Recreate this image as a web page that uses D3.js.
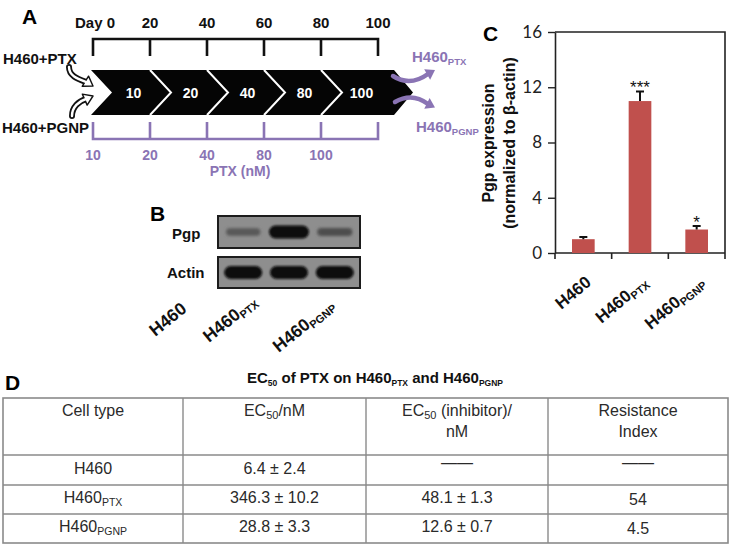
<!DOCTYPE html>
<html><head><meta charset="utf-8">
<script src="https://cdn.jsdelivr.net/npm/d3@7"></script>
<style>body{margin:0;background:#fff} svg{display:block}</style>
</head><body>
<svg id="c" width="732" height="545"></svg>
<script>
// ---------- data ----------
const days = [0, 20, 40, 60, 80, 100];
const dayLabels = ["Day 0", "20", "40", "60", "80", "100"];
const ptxDoses = [10, 20, 40, 80, 100];          // labels under purple bracket
const stepDoses = [10, 20, 40, 80, 100];         // numbers inside chevrons
const lineLabelsIn = ["H460+PTX", "H460+PGNP"];
const lineLabelsOut = ["H460_PTX", "H460_PGNP"];
const cells = ["H460", "H460_PTX", "H460_PGNP"];
const pgpBand = [0.3, 1.0, 0.4];                 // relative band intensity
const actinBand = [1.0, 1.0, 1.0];
const pgpExpr = [1.0, 11.0, 1.7];
const pgpErr = [0.15, 0.7, 0.25];
const sigMarks = ["", "***", "*"];
const yTicks = [0, 4, 8, 12, 16];
const tableHeaders = [["Cell type"], ["EC_50/nM"], ["EC_50 (inhibitor)/", "nM"], ["Resistance", "Index"]];
const ec50 = ["6.4 ± 2.4", "346.3 ± 10.2", "28.8 ± 3.3"];
const ec50Inhibitor = ["——", "48.1 ± 1.3", "12.6 ± 0.7"];
const resistanceIndex = ["——", "54", "4.5"];
const tableTitle = "EC_50 of PTX on H460_PTX and H460_PGNP";

// ---------- helpers ----------
const svg = d3.select("#c");
const FONT = "'Liberation Sans', Arial, sans-serif";
const PURPLE = "#8a74b4";
function rich(sel, str, subSize, subDy) {
  const parts = str.split(/(_[A-Za-z0-9]+)/).filter(s => s.length);
  let shifted = false;
  parts.forEach(p => {
    if (p[0] === "_") {
      sel.append("tspan").attr("font-size", subSize).attr("dy", shifted ? 0 : subDy).text(p.slice(1));
      shifted = true;
    } else {
      sel.append("tspan").attr("dy", shifted ? -subDy : 0).text(p);
      shifted = false;
    }
  });
  return sel;
}
function head(g, tip, from, len, half, fill, stroke) {
  const dx = tip[0] - from[0], dy = tip[1] - from[1], L = Math.hypot(dx, dy);
  const ux = dx / L, uy = dy / L, px = -uy, py = ux;
  const bx = tip[0] - ux * len, by = tip[1] - uy * len;
  g.append("path")
    .attr("d", `M${tip[0]},${tip[1]}L${bx + px * half},${by + py * half}L${bx - px * half},${by - py * half}Z`)
    .attr("fill", fill).attr("stroke", stroke || "none").attr("stroke-width", 1.4).attr("stroke-linejoin", "round");
}

// ---------- Panel A ----------
const A = svg.append("g").attr("font-family", FONT).attr("font-weight", "bold");
A.append("text").attr("x", 22).attr("y", 24).attr("font-size", 21).text("A");
const xd = d3.scalePoint().domain(days).range([93, 378]);

A.append("path")
  .attr("d", `M${xd(0)},56V39H${xd(100)}V56` + days.slice(1, -1).map(d => `M${xd(d)},39V56`).join(""))
  .attr("fill", "none").attr("stroke", "#111").attr("stroke-width", 2.6);
A.selectAll(".dl").data(days).join("text")
  .attr("x", (d, i) => xd(d) + (i === 0 ? 2 : 0)).attr("y", 28)
  .attr("text-anchor", "middle").attr("font-size", 15).attr("fill", "#111")
  .text((d, i) => dayLabels[i]);

const yTop = 70, yBot = 115, yMid = 92.5, notch = 21;
const x0 = xd(0) - 2, xe = xd(100) + 16;
A.append("path")
  .attr("d", `M${x0},${yTop}L${xe},${yTop}L${xe + 19},${yMid}L${xe},${yBot}L${x0},${yBot}L${x0 + notch},${yMid}Z`)
  .attr("fill", "#050505");
A.selectAll(".chev").data(days.slice(1, -1)).join("path")
  .attr("d", d => `M${xd(d)},${yTop}L${xd(d) + notch},${yMid}L${xd(d)},${yBot}`)
  .attr("fill", "none").attr("stroke", "#fff").attr("stroke-width", 2);
A.selectAll(".sd").data(stepDoses).join("text")
  .attr("x", (d, i) => (xd(days[i]) + xd(days[i + 1])) / 2 + 12).attr("y", yMid + 5)
  .attr("text-anchor", "middle").attr("font-size", 14).attr("fill", "#fff").text(d => d);

A.append("path")
  .attr("d", `M${xd(0)},122V139H${xd(100)}V122` + days.slice(1, -1).map(d => `M${xd(d)},122V139`).join(""))
  .attr("fill", "none").attr("stroke", PURPLE).attr("stroke-width", 2.6);
A.selectAll(".pd").data(ptxDoses).join("text")
  .attr("x", (d, i) => xd(days[i])).attr("y", 160)
  .attr("text-anchor", "middle").attr("font-size", 14).attr("fill", PURPLE).text(d => d);
A.append("text").attr("x", 240).attr("y", 176).attr("text-anchor", "middle")
  .attr("font-size", 14).attr("fill", PURPLE).text("PTX (nM)");

A.append("text").attr("x", 3).attr("y", 64).attr("font-size", 15).attr("fill", "#111").text(lineLabelsIn[0]);
A.append("text").attr("x", 2).attr("y", 133).attr("font-size", 15).attr("fill", "#111").text(lineLabelsIn[1]);
const arrows = [
  { d: "M69,67C69,76 78,79 86,82", tip: [93, 86], from: [85, 81] },
  { d: "M72,116C72,107 79,101 86,99", tip: [93, 96], from: [85, 99.5] }
];
arrows.forEach(a => {
  A.append("path").attr("d", a.d).attr("fill", "none").attr("stroke", "#111").attr("stroke-width", 6).attr("stroke-linecap", "round");
  head(A, a.tip, a.from, 9, 6, "#fff", "#111");
  A.append("path").attr("d", a.d).attr("fill", "none").attr("stroke", "#fff").attr("stroke-width", 2.4).attr("stroke-linecap", "round");
});

const outArrows = [
  { d: "M393,76Q410,87 428,74", tip: [435, 70], from: [427, 74.5] },
  { d: "M395,102Q412,92 428,104", tip: [435, 107.5], from: [427, 103.5] }
];
outArrows.forEach(a => {
  A.append("path").attr("d", a.d).attr("fill", "none").attr("stroke", PURPLE).attr("stroke-width", 4.5).attr("stroke-linecap", "round");
  head(A, a.tip, a.from, 9, 6, PURPLE);
});
rich(A.append("text").attr("x", 412).attr("y", 62).attr("font-size", 15).attr("fill", PURPLE), lineLabelsOut[0], 9.5, 3);
rich(A.append("text").attr("x", 416).attr("y", 132).attr("font-size", 15).attr("fill", PURPLE), lineLabelsOut[1], 9.5, 3);

// ---------- Panel B ----------
const B = svg.append("g").attr("font-family", FONT).attr("font-weight", "bold");
const defs = svg.append("defs");
defs.append("filter").attr("id", "blur").attr("x", "-20%").attr("y", "-60%").attr("width", "140%").attr("height", "220%")
  .append("feGaussianBlur").attr("stdDeviation", 1.2);
defs.append("filter").attr("id", "blur2").attr("x", "-20%").attr("y", "-80%").attr("width", "140%").attr("height", "260%")
  .append("feGaussianBlur").attr("stdDeviation", 1.6);
B.append("text").attr("x", 150).attr("y", 221).attr("font-size", 21).text("B");
B.append("text").attr("x", 172).attr("y", 239).attr("font-size", 15).attr("fill", "#111").text("Pgp");
B.append("text").attr("x", 167).attr("y", 278).attr("font-size", 15).attr("fill", "#111").text("Actin");
const bx0 = 218, bx1 = 360;
const lane = d3.scalePoint().domain(cells).range([bx0, bx1]).padding(0.55);
const blots = [
  { y: 216, h: 32, vals: pgpBand },
  { y: 257, h: 31, vals: actinBand }
];
blots.forEach((b, bi) => {
  B.append("rect").attr("x", bx0).attr("y", b.y).attr("width", bx1 - bx0).attr("height", b.h)
    .attr("fill", "#8e8e8e").attr("stroke", "#1c1c1c").attr("stroke-width", 2);
  B.selectAll(".band" + bi).data(b.vals).join("rect")
    .attr("x", (v, i) => lane(cells[i]) - (bi === 0 ? 16 + 4 * v : 19))
    .attr("width", (v, i) => (bi === 0 ? 32 + 8 * v : 38))
    .attr("y", v => b.y + b.h / 2 - (bi === 0 ? 2.5 + 4 * v : 6.5))
    .attr("height", v => (bi === 0 ? 5 + 8 * v : 13))
    .attr("rx", v => (bi === 0 ? 2.5 + 4 * v : 6.5))
    .attr("fill", v => d3.interpolateRgb("#7a7a7a", "#0a0a0a")(v))
    .attr("filter", v => (v < 0.6 ? "url(#blur2)" : "url(#blur)"));
});
const bLabelStart = [[-88, 37], [-80, 43], [-56, 53]];
B.selectAll(".bl").data(cells).join("text")
  .attr("transform", (d, i) => `translate(${lane(d) + bLabelStart[i][0]},${300 + bLabelStart[i][1]}) rotate(-39)`)
  .attr("font-size", 17.5).attr("fill", "#111")
  .each(function (d) { rich(d3.select(this), d, 11, 3); });

// ---------- Panel C ----------
const C = svg.append("g").attr("font-family", FONT);
C.append("text").attr("x", 483).attr("y", 41).attr("font-size", 21).attr("font-weight", "bold").text("C");
const y = d3.scaleLinear().domain([0, 16]).range([253, 32]);
const xb = d3.scaleBand().domain(cells).range([555, 725]).paddingInner(0.6).paddingOuter(0.3);
C.append("path").attr("d", `M555,32H725V253`).attr("fill", "none").attr("stroke", "#222").attr("stroke-width", 1.6);
const yAxis = C.append("g").attr("transform", "translate(555,0)")
  .call(d3.axisLeft(y).tickValues(yTicks).tickSize(7).tickSizeOuter(0).tickPadding(6));
yAxis.select(".domain").attr("stroke", "#222").attr("stroke-width", 1.6);
yAxis.selectAll(".tick line").attr("stroke", "#222").attr("stroke-width", 1.4);
yAxis.selectAll(".tick text").attr("font-family", "Lato, 'Open Sans', sans-serif").attr("font-size", 17).attr("fill", "#222");
const bTicks = d3.range(0, 4).map(i => 555 + i * xb.step());
C.append("path").attr("d", `M555,253H725` + bTicks.map(t => `M${t},253V259`).join(""))
  .attr("fill", "none").attr("stroke", "#222").attr("stroke-width", 1.6);
C.selectAll(".bar").data(pgpExpr).join("rect")
  .attr("x", (v, i) => xb(cells[i])).attr("width", xb.bandwidth())
  .attr("y", v => y(v)).attr("height", v => y(0) - y(v)).attr("fill", "#c0504d");
C.selectAll(".err").data(pgpExpr).join("path")
  .attr("d", (v, i) => {
    const cx = xb(cells[i]) + xb.bandwidth() / 2, t = y(v + pgpErr[i]);
    return `M${cx},${y(v)}V${t}M${cx - 4},${t}H${cx + 4}`;
  })
  .attr("stroke", "#111").attr("stroke-width", 2).attr("fill", "none");
C.selectAll(".sig").data(sigMarks).join("text")
  .attr("x", (s, i) => xb(cells[i]) + xb.bandwidth() / 2)
  .attr("y", (s, i) => y(pgpExpr[i] + pgpErr[i]) + 1.5)
  .attr("text-anchor", "middle").attr("font-size", 17).attr("fill", "#111").text(s => s);
C.append("text").attr("transform", "translate(494,143) rotate(-90)").attr("text-anchor", "middle")
  .attr("font-size", 16).attr("font-weight", "bold").attr("fill", "#111").text("Pgp expression");
C.append("text").attr("transform", "translate(515,143) rotate(-90)").attr("text-anchor", "middle")
  .attr("font-size", 16).attr("font-weight", "bold").attr("fill", "#111").text("(normalized to β-actin)");
C.selectAll(".xl").data(cells).join("text")
  .attr("transform", d => `translate(${xb(d) + xb.bandwidth() / 2 + 9},${284}) rotate(-40)`)
  .attr("text-anchor", "end").attr("font-size", 17).attr("font-weight", "bold").attr("fill", "#111")
  .each(function (d) { rich(d3.select(this), d, 11, 3); });

// ---------- Panel D ----------
const D = svg.append("g").attr("font-family", FONT);
D.append("text").attr("x", 5).attr("y", 390).attr("font-size", 21).attr("font-weight", "bold").text("D");
rich(D.append("text").attr("x", 375).attr("y", 383).attr("text-anchor", "middle")
  .attr("font-size", 15).attr("font-weight", "bold").attr("fill", "#111"), tableTitle, 8.5, 3);
const colX = [3, 183, 366, 548, 728];
const rowY = [398, 455, 485, 514, 543];
D.append("rect").attr("x", colX[0]).attr("y", rowY[0]).attr("width", colX[4] - colX[0]).attr("height", rowY[4] - rowY[0])
  .attr("fill", "none").attr("stroke", "#8a8a8a").attr("stroke-width", 1.6);
D.selectAll(".vl").data(colX.slice(1, -1)).join("line")
  .attr("x1", d => d).attr("x2", d => d).attr("y1", rowY[0]).attr("y2", rowY[4])
  .attr("stroke", "#8a8a8a").attr("stroke-width", 1.4);
D.selectAll(".hl").data(rowY.slice(1, -1)).join("line")
  .attr("x1", colX[0]).attr("x2", colX[4]).attr("y1", d => d).attr("y2", d => d)
  .attr("stroke", "#8a8a8a").attr("stroke-width", 1.4);
const colC = i => (colX[i] + colX[i + 1]) / 2;
tableHeaders.forEach((lines, ci) => {
  lines.forEach((ln, li) => {
    rich(D.append("text").attr("x", colC(ci)).attr("y", 416 + li * 21).attr("text-anchor", "middle")
      .attr("font-size", 16).attr("fill", "#2a2a2a"), ln, 11, 3);
  });
});
const rowsText = cells.map((c, i) => [c, ec50[i], ec50Inhibitor[i], resistanceIndex[i]]);
const baseY = [474, 503, 532];
rowsText.forEach((row, ri) => {
  row.forEach((t, ci) => {
    const isDash = t === "——";
    const extra = (ci === 3 && !isDash) ? 2 : 0;
    rich(D.append("text").attr("x", colC(ci)).attr("y", baseY[ri] + extra - (isDash ? 6 : 0))
      .attr("text-anchor", "middle").attr("font-size", 16).attr("fill", "#2a2a2a"), t, 10.5, 3);
  });
});
</script>
</body></html>
